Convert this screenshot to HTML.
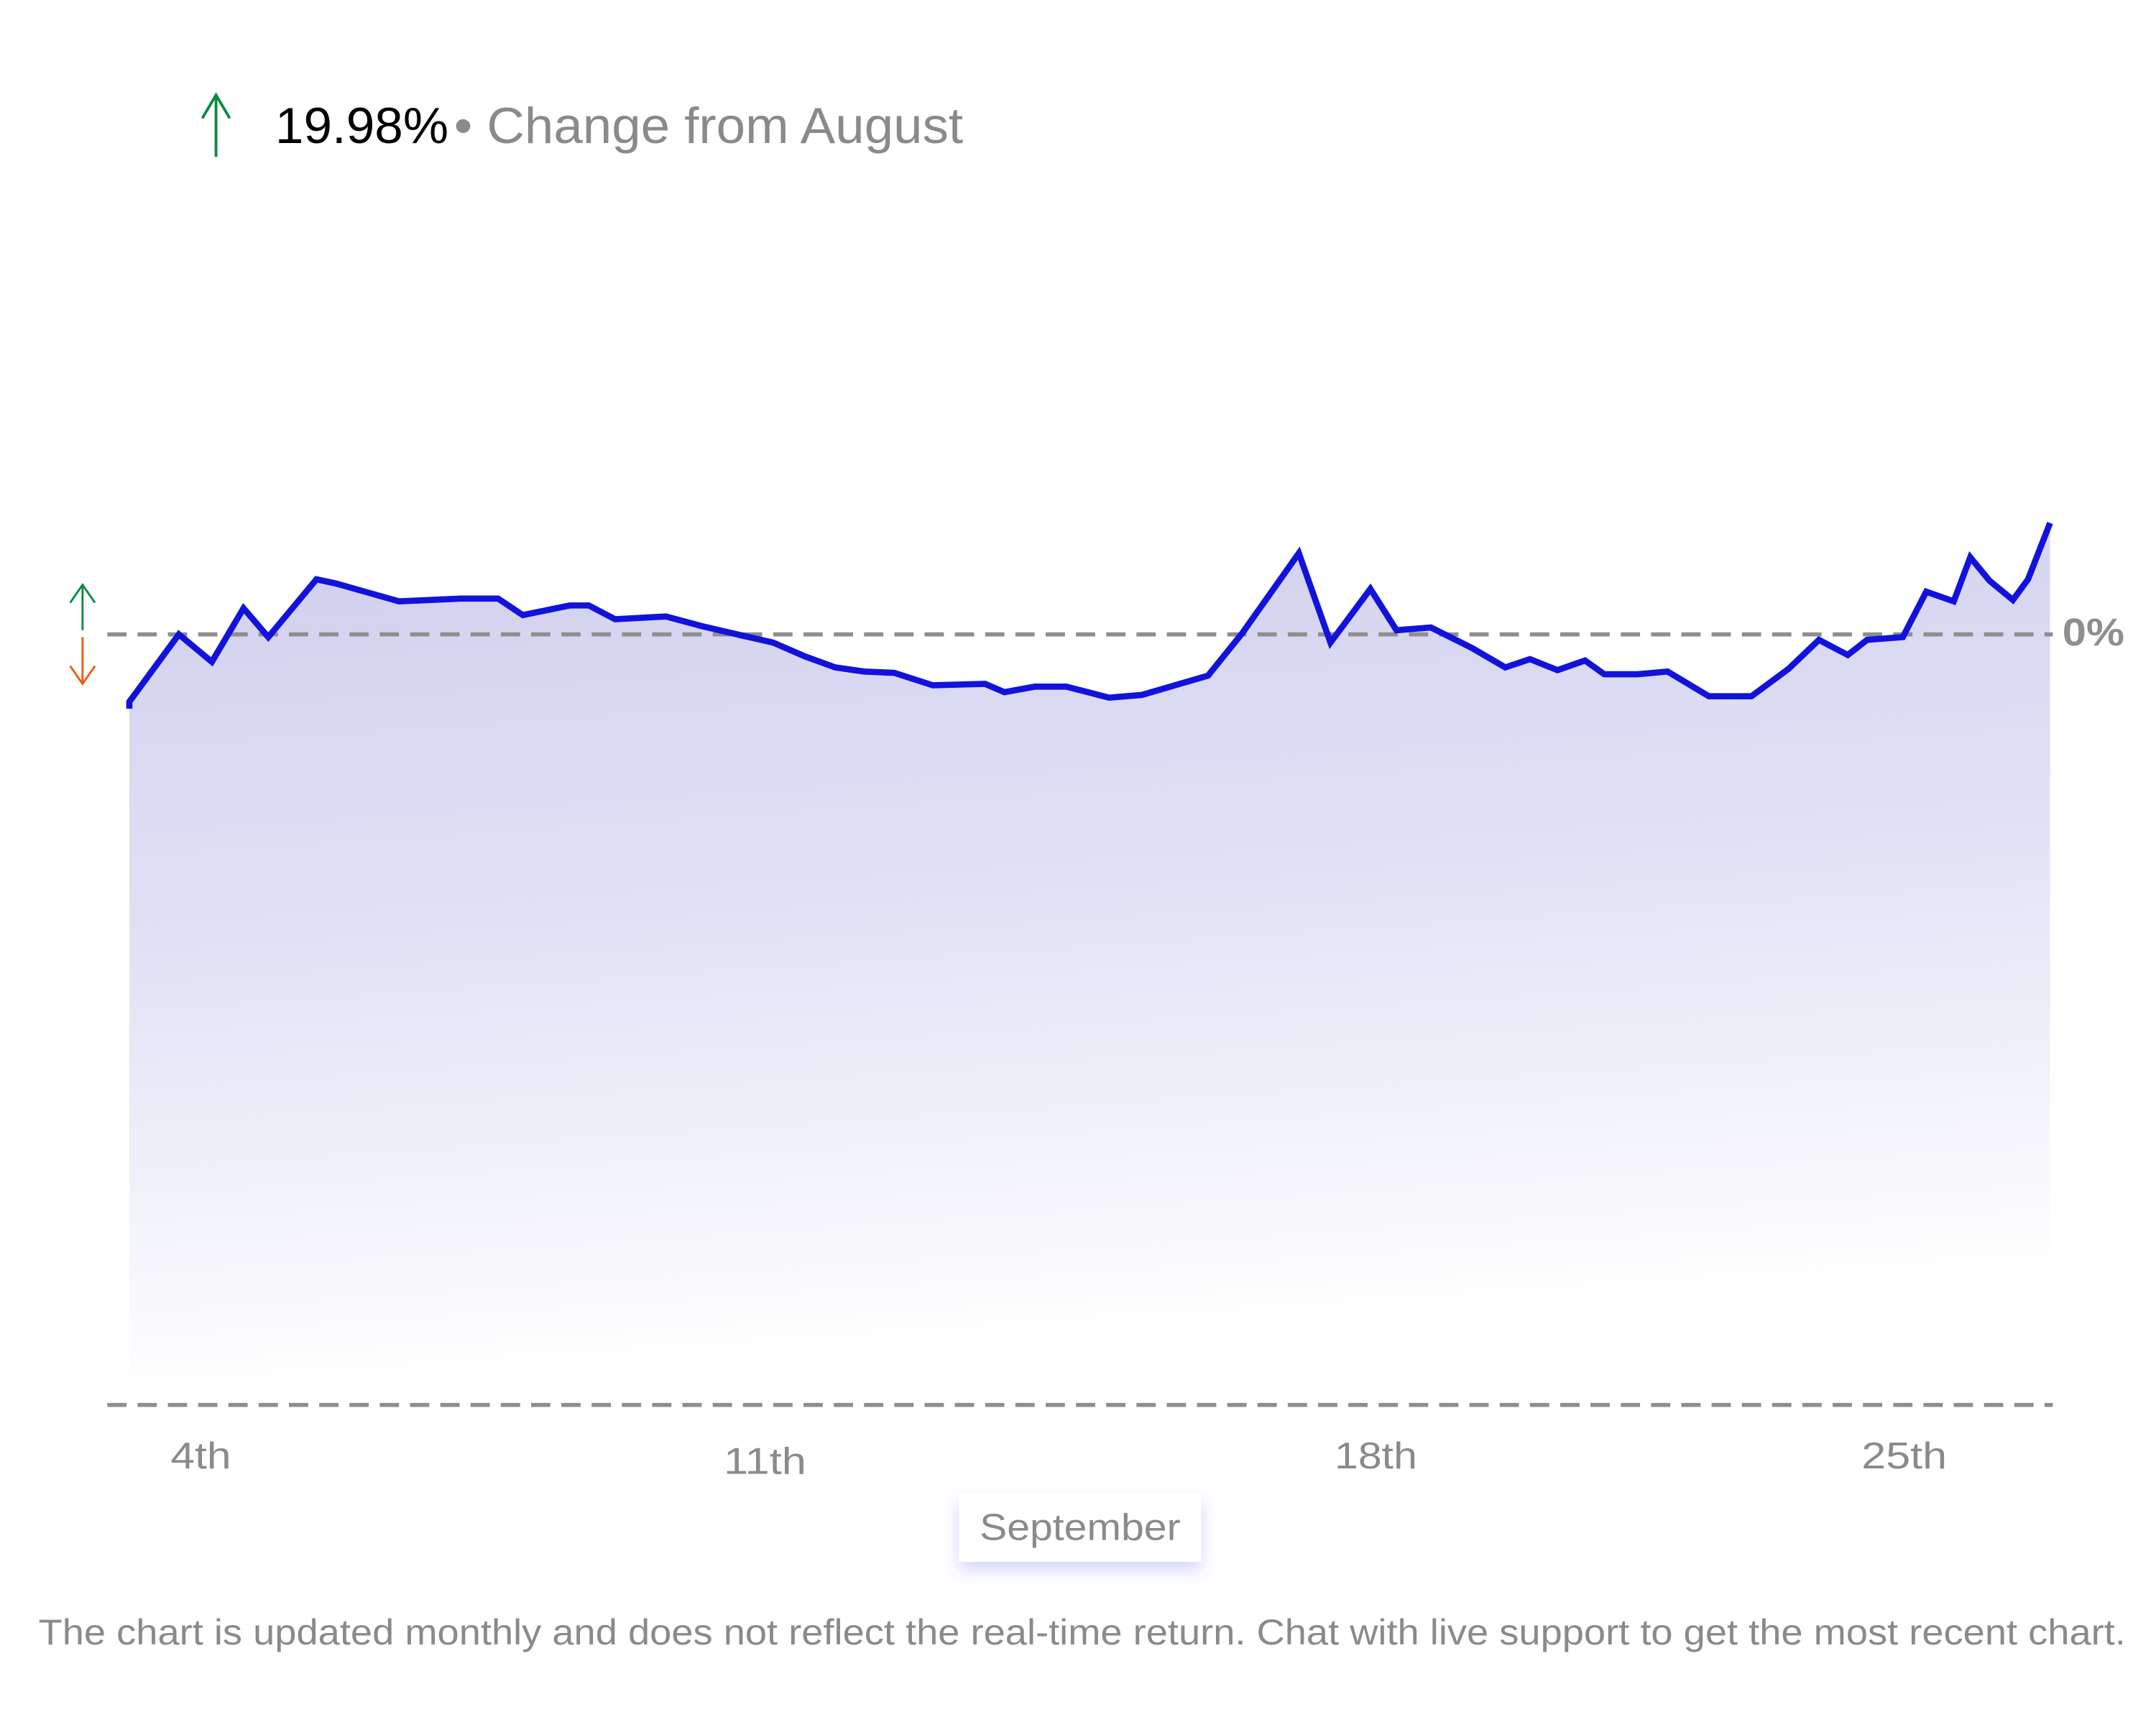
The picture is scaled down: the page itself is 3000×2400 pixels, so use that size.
<!DOCTYPE html>
<html><head><meta charset="utf-8"><style>
html,body{margin:0;padding:0;background:#fff;}
svg{display:block;}
text{font-family:"Liberation Sans",sans-serif;}
</style></head><body>
<svg width="3000" height="2400" viewBox="0 0 1567 1253.6" xmlns="http://www.w3.org/2000/svg">
<defs>
<linearGradient id="g" x1="0" y1="0" x2="0.15" y2="1">
<stop offset="0" stop-color="#cfcfee"/>
<stop offset="0.5" stop-color="#e2e2f6"/>
<stop offset="1" stop-color="#ffffff"/>
</linearGradient>
<filter id="sh" x="-30%" y="-60%" width="160%" height="220%">
<feDropShadow dx="0" dy="6" stdDeviation="6" flood-color="#b8b8ff" flood-opacity="0.6"/>
</filter>
</defs>
<rect width="1567" height="1254" fill="#fff"/>
<g stroke="#0a8a40" stroke-width="2" fill="none">
<line x1="157" y1="69" x2="157" y2="114"/>
<polyline points="147,86 157,69 167,86"/>
</g>
<text x="200" y="104" font-size="37" fill="#000" textLength="126" lengthAdjust="spacingAndGlyphs">19.98%</text>
<text x="330" y="104" font-size="37" fill="#8a8a8a" textLength="370" lengthAdjust="spacingAndGlyphs">• Change from August</text>
<path fill="url(#g)" d="M94,515 L94,510 L130,461 L154,481 L177,442 L195,463 L230,421 L244,424 L290,437 L335,435 L362,435 L380,447 L414,440 L428,440 L447,450 L484,448 L510,455 L540,462 L562,467 L585,477 L607,485 L628,488 L650,489 L678,498 L716,497 L730,503 L752,499 L775,499 L806,507 L830,505 L878,491 L903,460 L944,402 L967,467 L996,428 L1015,458 L1040,456 L1070,471 L1094,485 L1112,479 L1132,487 L1152,480 L1166,490 L1190,490 L1212,488 L1242,506 L1273,506 L1300,486 L1322,465 L1343,476 L1357,465 L1383,463 L1400,430 L1420,437 L1432,405 L1446,422 L1463,436 L1474,421 L1490,380 L1490,1005 L94,1005 Z"/>
<line x1="78" y1="461" x2="1492" y2="461" stroke="#8e8e8e" stroke-width="3" stroke-dasharray="14,8"/>
<line x1="78" y1="1021" x2="1492" y2="1021" stroke="#8e8e8e" stroke-width="3" stroke-dasharray="14,8"/>
<polyline fill="none" stroke="#1212dd" stroke-width="4.5" stroke-linejoin="miter" points="94,515 94,510 130,461 154,481 177,442 195,463 230,421 244,424 290,437 335,435 362,435 380,447 414,440 428,440 447,450 484,448 510,455 540,462 562,467 585,477 607,485 628,488 650,489 678,498 716,497 730,503 752,499 775,499 806,507 830,505 878,491 903,460 944,402 967,467 996,428 1015,458 1040,456 1070,471 1094,485 1112,479 1132,487 1152,480 1166,490 1190,490 1212,488 1242,506 1273,506 1300,486 1322,465 1343,476 1357,465 1383,463 1400,430 1420,437 1432,405 1446,422 1463,436 1474,421 1490,380"/>
<text x="1499" y="469" font-size="28" font-weight="bold" fill="#8e8e8e" textLength="45" lengthAdjust="spacingAndGlyphs">0%</text>
<g fill="none" stroke-width="1.5">
<g stroke="#0a8a40"><line x1="60" y1="425" x2="60" y2="458"/><polyline points="51,438 60,425 69,438"/></g>
<g stroke="#f05a10"><line x1="60" y1="463" x2="60" y2="497"/><polyline points="51,484 60,497 69,484"/></g>
</g>
<g font-size="27" fill="#8a8a8a" text-anchor="middle">
<text x="146" y="1067" textLength="44" lengthAdjust="spacingAndGlyphs">4th</text>
<text x="556" y="1071" textLength="60" lengthAdjust="spacingAndGlyphs">11th</text>
<text x="1000" y="1067" textLength="60" lengthAdjust="spacingAndGlyphs">18th</text>
<text x="1384" y="1067" textLength="62" lengthAdjust="spacingAndGlyphs">25th</text>
</g>
<rect x="697" y="1085" width="176" height="50" fill="#fff" filter="url(#sh)"/>
<text x="785" y="1119" font-size="27" fill="#8a8a8a" text-anchor="middle" textLength="146" lengthAdjust="spacingAndGlyphs">September</text>
<text x="28" y="1195" font-size="26" fill="#8a8a8a" textLength="1517" lengthAdjust="spacingAndGlyphs">The chart is updated monthly and does not reflect the real-time return. Chat with live support to get the most recent chart.</text>
</svg>
</body></html>
